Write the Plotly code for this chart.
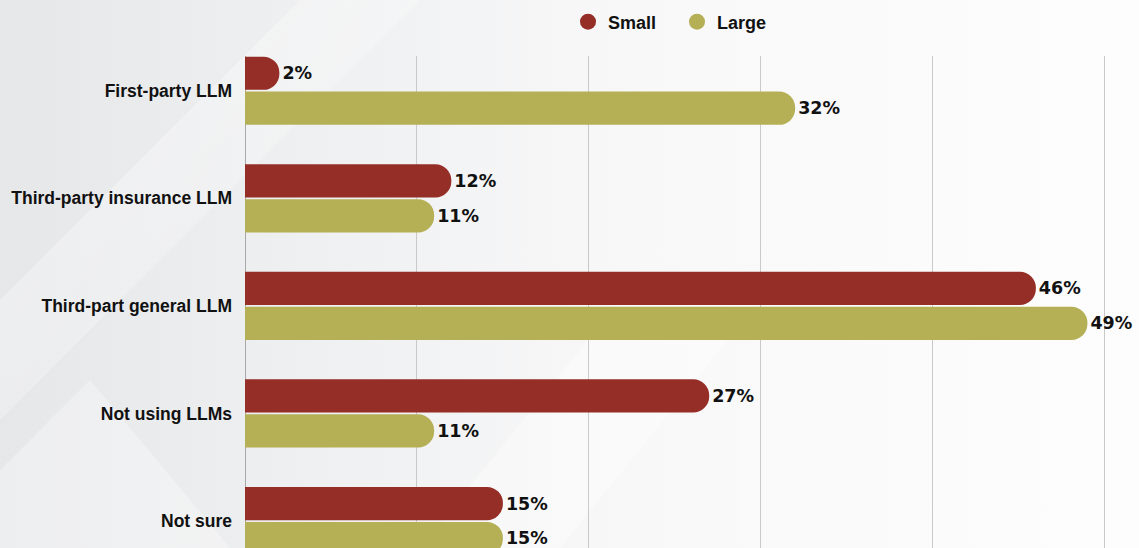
import base64
import plotly.graph_objects as go

# Survey data: share of respondents by LLM approach, split by company size
categories = [
    "First-party LLM",
    "Third-party insurance LLM",
    "Third-part general LLM",
    "Not using LLMs",
    "Not sure",
]
small_values = [2, 12, 46, 27, 15]
large_values = [32, 11, 49, 11, 15]
series_names = ["Small", "Large"]
x_ticks = [0, 10, 20, 30, 40, 50]

SMALL_COLOR = "#952e27"
LARGE_COLOR = "#b5af56"
FONT = "Liberation Sans, Arial, Helvetica, sans-serif"
VALUE_FONT = "DejaVu Sans, Liberation Sans, Arial, sans-serif"

W, H = 1139, 548
M_L, M_T = 245, 56
PW, PH = W - M_L, H - M_T

# Soft grey backdrop with diagonal light streaks
svg = f"""<svg xmlns='http://www.w3.org/2000/svg' width='{W}' height='{H}' viewBox='0 0 {W} {H}' preserveAspectRatio='none'>
<defs>
<linearGradient id='g' x1='0' y1='0' x2='1' y2='0'>
<stop offset='0' stop-color='#e6e7e9'/>
<stop offset='0.25' stop-color='#eeeff0'/>
<stop offset='0.55' stop-color='#f8f8f9'/>
<stop offset='1' stop-color='#fdfdfd'/>
</linearGradient>
<linearGradient id='s' x1='0' y1='0' x2='1' y2='1'>
<stop offset='0' stop-color='#ffffff' stop-opacity='0.45'/>
<stop offset='1' stop-color='#ffffff' stop-opacity='0'/>
</linearGradient>
</defs>
<rect width='{W}' height='{H}' fill='url(#g)'/>
<polygon points='0,300 300,0 420,0 0,420' fill='url(#s)'/>
<polygon points='0,470 90,380 230,548 0,548' fill='#ffffff' fill-opacity='0.3'/>
<polygon points='420,548 620,300 760,300 560,548' fill='#ffffff' fill-opacity='0.35'/>
</svg>"""
bg_src = "data:image/svg+xml;base64," + base64.b64encode(svg.encode()).decode()

label_font = dict(family=VALUE_FONT, size=17.5, color="#111111", weight="bold")

fig = go.Figure()
for name, vals, color in [
    (series_names[0], small_values, SMALL_COLOR),
    (series_names[1], large_values, LARGE_COLOR),
]:
    fig.add_trace(
        go.Bar(
            name=name,
            y=categories,
            x=vals,
            orientation="h",
            marker=dict(color=color, cornerradius="50%", line=dict(width=0)),
            text=[f"{v}%" for v in vals],
            textposition="outside",
            textfont=label_font,
            cliponaxis=False,
            showlegend=False,
        )
    )
    # Circular legend swatch
    fig.add_trace(
        go.Scatter(
            name=name,
            x=[None],
            y=[None],
            mode="markers",
            marker=dict(color=color, size=18, symbol="circle"),
            showlegend=True,
        )
    )

fig.update_layout(
    width=W,
    height=H,
    margin=dict(l=M_L, r=0, t=M_T, b=0),
    paper_bgcolor="#ffffff",
    plot_bgcolor="rgba(0,0,0,0)",
    barmode="group",
    bargap=0.35,
    bargroupgap=0.05,
    font=dict(family=FONT, size=16, color="#111111"),
    legend=dict(
        orientation="h",
        x=(568 - M_L) / PW,
        xanchor="left",
        y=1 + 34 / PH,
        yanchor="middle",
        entrywidth=64,
        font=dict(family=FONT, size=18, color="#111111", weight="bold"),
        bgcolor="rgba(0,0,0,0)",
        itemsizing="trace",
    ),
    images=[
        dict(
            source=bg_src,
            xref="paper",
            yref="paper",
            x=-M_L / PW,
            y=1 + M_T / PH,
            sizex=W / PW,
            sizey=H / PH,
            xanchor="left",
            yanchor="top",
            sizing="stretch",
            layer="below",
        )
    ],
    xaxis=dict(
        range=[0, 52],
        tickvals=x_ticks,
        showticklabels=False,
        showgrid=True,
        gridcolor="#c9c9c9",
        gridwidth=1,
        zeroline=True,
        zerolinecolor="#a8a8a8",
        zerolinewidth=1,
        fixedrange=True,
    ),
    yaxis=dict(
        type="category",
        range=[4.251, -0.323],
        showgrid=False,
        ticks="",
        ticklabelstandoff=12,
        tickfont=dict(family=FONT, size=17.5, color="#111111", weight="bold"),
        fixedrange=True,
    ),
)

fig.write_html("out.html")
